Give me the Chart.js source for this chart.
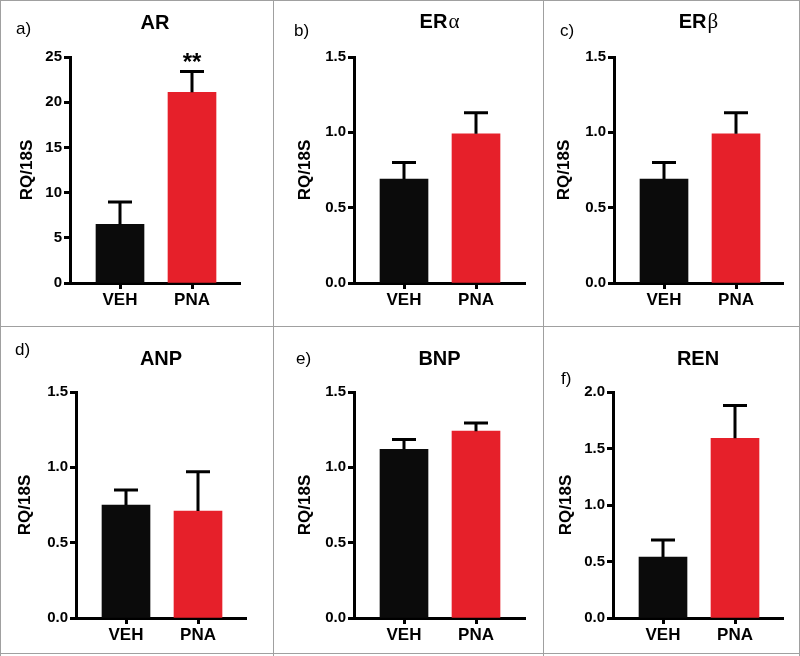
<!DOCTYPE html>
<html>
<head>
<meta charset="utf-8">
<script src="https://cdn.jsdelivr.net/npm/chart.js@4.4.1/dist/chart.umd.min.js"></script>
<style>
	body { margin: 0; background: #fff; }
	#fig { position: relative; width: 800px; height: 656px; background: #fff; overflow: hidden; }
	#fig canvas { position: absolute; }
	.ln { position: absolute; background: #a0a0a0; }
</style>
</head>
<body>
<div id="fig"></div>
<script>
'use strict'

// data
const groups = ['VEH', 'PNA'];
const titles = ['AR', 'ERα', 'ERβ', 'ANP', 'BNP', 'REN'];
const letters = ['a)', 'b)', 'c)', 'd)', 'e)', 'f)'];
const stars = ['**', '', '', '', '', ''];

const arMean = [6.5, 21.1];
const arSem = [2.45, 2.3];
const eraMean = [0.69, 0.99];
const eraSem = [0.11, 0.14];
const erbMean = [0.69, 0.99];
const erbSem = [0.11, 0.14];
const anpMean = [0.75, 0.71];
const anpSem = [0.10, 0.26];
const bnpMean = [1.12, 1.24];
const bnpSem = [0.065, 0.055];
const renMean = [0.54, 1.59];
const renSem = [0.15, 0.29];

const yMax = [25, 1.5, 1.5, 1.5, 1.5, 2.0];
const yStep = [5, 0.5, 0.5, 0.5, 0.5, 0.5];
const yDecimals = [0, 1, 1, 1, 1, 1];

const means = [arMean, eraMean, erbMean, anpMean, bnpMean, renMean];
const sems = [arSem, eraSem, erbSem, anpSem, bnpSem, renSem];

const barColors = ['#0b0b0b', '#e6202a'];
const FONT = "'Liberation Sans', Arial, Helvetica, sans-serif";

// panel layout (pixels inside each panel)
const panels = [
	{ left: 0, top: 0, w: 273, h: 326, L: 70, R: 240, T: 57, B: 283, yt: 27, lx: 16, ly: 34, tb: 29 },
	{ left: 273, top: 0, w: 270, h: 326, L: 81, R: 252, T: 57, B: 283, yt: 32.5, lx: 21, ly: 36, tb: 28 },
	{ left: 543, top: 0, w: 257, h: 326, L: 71, R: 240, T: 57, B: 283, yt: 21.5, lx: 17, ly: 36, tb: 28 },
	{ left: 0, top: 326, w: 273, h: 330, L: 76, R: 246, T: 66, B: 292, yt: 25, lx: 15, ly: 29, tb: 39 },
	{ left: 273, top: 326, w: 270, h: 330, L: 81, R: 252, T: 66, B: 292, yt: 32, lx: 23, ly: 38, tb: 39 },
	{ left: 543, top: 326, w: 257, h: 330, L: 70, R: 240, T: 66, B: 292, yt: 23.5, lx: 18, ly: 58, tb: 39 },
];

const fig = document.getElementById('fig');

function line(x, y, w, h) {
	const d = document.createElement('div');
	d.className = 'ln';
	d.style.left = x + 'px';
	d.style.top = y + 'px';
	d.style.width = w + 'px';
	d.style.height = h + 'px';
	fig.appendChild(d);
}
line(0, 0, 800, 1);
line(0, 653, 800, 1);
line(0, 0, 1, 656);
line(799, 0, 1, 656);
line(273, 0, 1, 656);
line(543, 0, 1, 656);
line(0, 326, 800, 1);

function decoPlugin(i, p) {
	return {
		id: 'deco' + i,
		afterDatasetsDraw(chart) {
			const ctx = chart.ctx;
			const xs = chart.scales.x;
			const ys = chart.scales.y;
			ctx.save();
			ctx.strokeStyle = '#000';
			ctx.lineWidth = 3;
			means[i].forEach((v, k) => {
				const px = xs.getPixelForValue(k);
				const top = ys.getPixelForValue(v + sems[i][k]);
				ctx.beginPath();
				ctx.moveTo(px, ys.getPixelForValue(v));
				ctx.lineTo(px, top - 1.5);
				ctx.moveTo(px - 12, top);
				ctx.lineTo(px + 12, top);
				ctx.stroke();
			});
			if (stars[i]) {
				const px = xs.getPixelForValue(1);
				const top = ys.getPixelForValue(means[i][1] + sems[i][1]);
				ctx.fillStyle = '#000';
				ctx.font = 'bold 24px ' + FONT;
				ctx.textAlign = 'center';
				ctx.textBaseline = 'alphabetic';
				ctx.fillText(stars[i], px, top - 1);
			}
			ctx.restore();
		},
		afterDraw(chart) {
			const ctx = chart.ctx;
			const area = chart.chartArea;
			ctx.save();
			ctx.fillStyle = '#000';
			ctx.textBaseline = 'alphabetic';

			// panel title, greek letter in a lighter serif face
			const t = titles[i];
			const greek = /[α-ω]$/.test(t) ? t.slice(-1) : '';
			const main = greek ? t.slice(0, -1) : t;
			const fMain = 'bold 20px ' + FONT;
			const fGreek = '21px "Liberation Serif", serif';
			ctx.font = fMain;
			const w1 = ctx.measureText(main).width;
			ctx.font = fGreek;
			const w2 = greek ? ctx.measureText(greek).width + 1 : 0;
			let x = (area.left + area.right) / 2 - (w1 + w2) / 2;
			ctx.textAlign = 'left';
			ctx.font = fMain;
			ctx.fillText(main, x, p.tb);
			if (greek) {
				ctx.font = fGreek;
				ctx.fillText(greek, x + w1 + 1, p.tb);
			}

			ctx.font = '17px ' + FONT;
			ctx.fillText(letters[i], p.lx, p.ly);
			ctx.restore();
		},
	};
}

panels.forEach((p, i) => {
	const cv = document.createElement('canvas');
	cv.width = p.w;
	cv.height = p.h;
	cv.style.left = p.left + 'px';
	cv.style.top = p.top + 'px';
	fig.appendChild(cv);

	const span = p.R - p.L;
	const unit = 72;
	const xMin = -50 / unit;
	const xMax = xMin + span / unit;

	new Chart(cv, {
		type: 'bar',
		data: {
			datasets: [{
				data: means[i].map((v, k) => ({ x: k, y: v })),
				backgroundColor: barColors,
				borderWidth: 0,
				barThickness: 48,
			}],
		},
		options: {
			responsive: false,
			animation: false,
			devicePixelRatio: 1,
			events: [],
			layout: { padding: { left: 0, right: p.w - p.R, top: p.T, bottom: 0 } },
			plugins: {
				legend: { display: false },
				tooltip: { enabled: false },
			},
			scales: {
				x: {
					type: 'linear',
					min: xMin,
					max: xMax,
					offset: false,
					afterBuildTicks: (s) => { s.ticks = [{ value: 0 }, { value: 1 }]; },
					afterFit: (s) => { s.height = p.h - p.B; },
					ticks: {
						autoSkip: false,
						maxRotation: 0,
						padding: 1,
						color: '#000',
						font: { family: FONT, size: 17, weight: 'bold' },
						callback: (v) => groups[v] ?? '',
					},
					grid: { drawOnChartArea: false, drawTicks: true, tickLength: 6, tickWidth: 3, tickColor: '#000', offset: false },
					border: { display: true, color: '#000', width: 3 },
				},
				y: {
					min: 0,
					max: yMax[i],
					afterFit: (s) => { s.width = p.L; },
					ticks: {
						stepSize: yStep[i],
						padding: 2,
						color: '#000',
						font: { family: FONT, size: 15, weight: 'bold' },
						callback: (v) => Number(v).toFixed(yDecimals[i]),
					},
					grid: { drawOnChartArea: false, drawTicks: true, tickLength: 6, tickWidth: 3, tickColor: '#000' },
					border: { display: true, color: '#000', width: 3 },
					title: {
						display: true,
						text: 'RQ/18S',
						color: '#000',
						font: { family: FONT, size: 17, weight: 'bold' },
						padding: { top: p.yt - 10.2, bottom: 0 },
					},
				},
			},
		},
		plugins: [decoPlugin(i, p)],
	});
});
</script>
</body>
</html>
